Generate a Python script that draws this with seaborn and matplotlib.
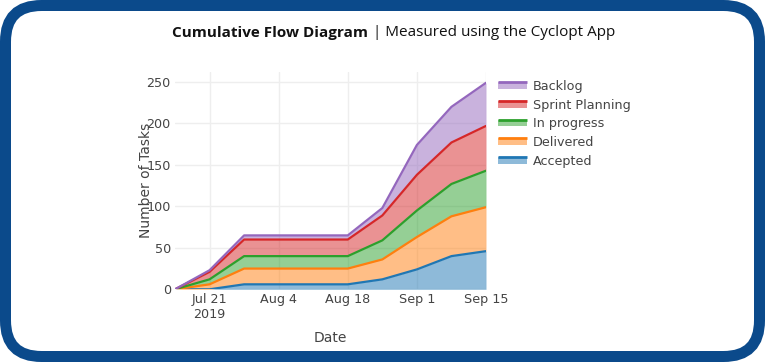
import numpy as np
import pandas as pd
import matplotlib
matplotlib.use("Agg")
import matplotlib.pyplot as plt
from matplotlib.patches import FancyBboxPatch, Rectangle
from matplotlib.lines import Line2D
from matplotlib.legend_handler import HandlerBase
from matplotlib.transforms import IdentityTransform
import seaborn as sns

# weekly snapshots
fechas = pd.to_datetime(["2019-07-14", "2019-07-21", "2019-07-28", "2019-08-04", "2019-08-11",
                         "2019-08-18", "2019-08-25", "2019-09-01", "2019-09-08", "2019-09-15"])

# tasks in each state (not cumulative)
accepted = [0, 0, 6, 6, 6, 6, 12, 24, 40, 46]
delivered = [0, 6, 19, 19, 19, 19, 24, 39, 48, 53]
in_progress = [0, 6, 15, 15, 15, 15, 23, 32, 39, 44]
sprint_planning = [0, 9, 20, 20, 20, 20, 30, 43, 50, 54]
backlog = [0, 2, 5, 5, 5, 5, 9, 36, 43, 52]

estados = ["Accepted", "Delivered", "In progress", "Sprint Planning", "Backlog"]
colores = ["#1f77b4", "#ff7f0e", "#2ca02c", "#d62728", "#9467bd"]

ticks_x = pd.to_datetime(["2019-07-21", "2019-08-04", "2019-08-18", "2019-09-01", "2019-09-15"])
etiquetas_x = ["Jul 21\n2019", "Aug 4", "Aug 18", "Sep 1", "Sep 15"]


class Muestra(HandlerBase):
    # plotly style swatch: fill with a solid line on top
    def create_artists(self, legend, orig, xd, yd, width, height, fontsize, trans):
        c = orig.get_color()
        h = height * 0.75
        y0 = -yd + (height - h) / 2
        rect = Rectangle((-xd, y0), width, h, facecolor=c, alpha=0.5, lw=0, transform=trans)
        linea = Line2D([-xd, -xd + width], [y0 + h, y0 + h], color=c, lw=2,
                       solid_capstyle="butt", transform=trans)
        return [rect, linea]


sns.set_theme(style="whitegrid")
plt.rcParams["font.family"] = ["DejaVu Sans"]

fig = plt.figure(figsize=(7.65, 3.62), dpi=100)
fig.patch.set_facecolor("white")
ax = fig.add_axes([175 / 765, 1 - 289.3 / 362, 311 / 765, 217.3 / 362])
ax.set_facecolor("white")

# stacked (cumulative) values
series = [accepted, delivered, in_progress, sprint_planning, backlog]
acumulado = np.cumsum(np.array(series), axis=0)

df = pd.DataFrame({"Date": np.tile(fechas, len(estados)),
                   "Tasks": acumulado.ravel(),
                   "Estado": np.repeat(estados, len(fechas))})

base = np.zeros(len(fechas))
for i, est in enumerate(estados):
    ax.fill_between(fechas, base, acumulado[i], color=colores[i], alpha=0.5, lw=0, zorder=2)
    base = acumulado[i]

sns.lineplot(data=df, x="Date", y="Tasks", hue="Estado", palette=colores,
             hue_order=estados, linewidth=1.6, ax=ax, legend=False, zorder=3)

ax.set_xlim(fechas[0], fechas[-1])
ax.set_ylim(0, 262)
ax.set_yticks([0, 50, 100, 150, 200, 250])
ax.set_xticks(ticks_x)
ax.set_xticklabels(etiquetas_x)
ax.grid(True, color="#eeeeee", linewidth=1)
for s in ax.spines.values():
    s.set_visible(False)
ax.tick_params(axis="both", labelsize=9.2, colors="#444444", length=0, pad=3)
ax.set_xlabel("Date", fontsize=10, color="#444444", labelpad=7)
ax.set_ylabel("Number of Tasks", fontsize=10, color="#444444")
ax.yaxis.set_label_coords((153 - 175) / 311, 0.5)

# legend, Backlog on top
handles = [Line2D([], [], color=c) for c in colores][::-1]
fig.legend(handles, estados[::-1], handler_map={Line2D: Muestra()},
           loc="upper left", bbox_to_anchor=(498 / 765, 1 - 80 / 362), frameon=False,
           fontsize=9.2, labelcolor="#444444", handlelength=2.3, handleheight=0.7,
           handletextpad=0.45, labelspacing=0.45, borderaxespad=0, borderpad=0)

# title in two weights
t1 = fig.text(172 / 765, 1 - 33 / 362, "Cumulative Flow Diagram", fontsize=11,
              fontweight="bold", family=["Open Sans", "DejaVu Sans"], color="#111111", va="center")
fig.canvas.draw()
bb = t1.get_window_extent()
fig.text((bb.x1 + 5) / 765, 1 - 33 / 362, "| Measured using the Cyclopt App", fontsize=11,
         family=["Open Sans", "DejaVu Sans"], color="#111111", va="center")

# rounded blue frame
marco = FancyBboxPatch((5.5, 5.5), 754, 351, boxstyle="round,pad=0,rounding_size=36",
                       transform=IdentityTransform(), facecolor="none",
                       edgecolor="#0b4a8b", linewidth=11 * 72 / 100)
fig.patches.append(marco)

fig.savefig("out.png", dpi=100)
